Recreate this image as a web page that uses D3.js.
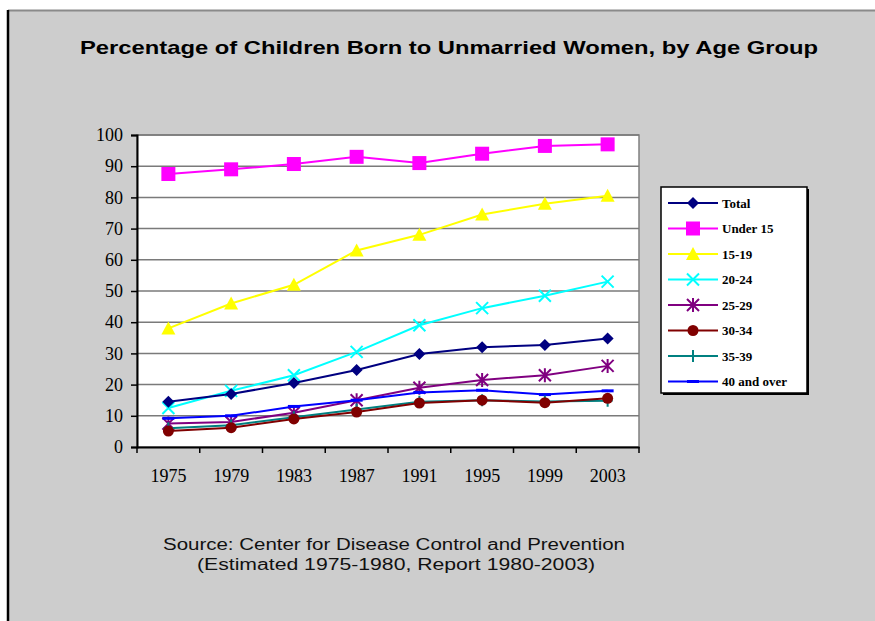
<!DOCTYPE html>
<html><head><meta charset="utf-8">
<script src="https://cdn.jsdelivr.net/npm/d3@7"></script>
<style>body{margin:0;background:#fff}svg{display:block}</style>
</head><body>
<svg id="c" width="875" height="621"></svg>
<script>
const years = ["1975","1979","1983","1987","1991","1995","1999","2003"];
const seriesNames = ["Total","Under 15","15-19","20-24","25-29","30-34","35-39","40 and over"];
const total     = [14.5,17,20.5,24.7,29.8,32,32.7,34.8];
const under15   = [87.5,89,90.7,93,91,94,96.5,97];
const age15_19  = [38,46,52,63,68,74.5,78,80.5];
const age20_24  = [12.5,18,23,30.5,39,44.5,48.5,53];
const age25_29  = [7.5,8,11,15,19,21.5,23,26];
const age30_34  = [5.1,6.2,9,11.2,14.1,15,14.2,15.6];
const age35_39  = [6,7,9.5,12,14.5,15,14.6,14.8];
const age40plus = [9.2,10,13,15,17.5,18.2,16.8,18];
const yTicks = [0,10,20,30,40,50,60,70,80,90,100];
const colors = ["#000080","#FF00FF","#FFFF00","#00FFFF","#800080","#800000","#008080","#0000FF"];
const markers = ["diamond","square","triangle","x","asterisk","circle","plus","dash"];
const allSeries = [total,under15,age15_19,age20_24,age25_29,age30_34,age35_39,age40plus];

const svg = d3.select("#c");
// frame
svg.append("rect").attr("x",8).attr("y",10).attr("width",867).attr("height",611).attr("fill","#cdcdcd");
svg.append("line").attr("x1",8).attr("x2",875).attr("y1",10.5).attr("y2",10.5).attr("stroke","#8a8a8a").attr("stroke-width",2);
svg.append("line").attr("x1",8).attr("x2",8).attr("y1",10).attr("y2",621).attr("stroke","#000").attr("stroke-width",2.5);

const L=137,R=639,T=135,B=447;
const x = d3.scaleBand().domain(years).range([L,R]);
const y = d3.scaleLinear().domain([0,100]).range([B,T]);

svg.append("rect").attr("x",L).attr("y",T).attr("width",R-L).attr("height",B-T).attr("fill","#fff").attr("stroke","#808080").attr("stroke-width",1.5);

// gridlines
svg.append("g").selectAll("line").data(yTicks.filter(d=>d>0)).join("line")
  .attr("x1",L).attr("x2",R).attr("y1",d=>y(d)).attr("y2",d=>y(d)).attr("stroke","#7a7a7a").attr("stroke-width",1.5);

// y axis
const ya = svg.append("g").attr("transform",`translate(${L},0)`)
  .call(d3.axisLeft(y).tickValues(yTicks).tickSize(6).tickPadding(8));
ya.select(".domain").attr("stroke","#000").attr("stroke-width",2);
ya.selectAll(".tick line").attr("stroke","#000").attr("stroke-width",1.5);
ya.selectAll("text").attr("font-family","Liberation Serif, serif").attr("font-size",18).attr("fill","#000");

// x axis
const xa = svg.append("g").attr("transform",`translate(0,${B})`)
  .call(d3.axisBottom(x).tickSize(0).tickPadding(22));
xa.select(".domain").attr("stroke","#000").attr("stroke-width",2);
xa.selectAll("text").attr("font-family","Liberation Serif, serif").attr("font-size",18).attr("fill","#000");
// between-category ticks
svg.append("g").selectAll("line").data(years.slice(1).concat(["end"])).join("line")
  .attr("x1",(d,i)=> i<years.length-1 ? x(d) : R).attr("x2",(d,i)=> i<years.length-1 ? x(d) : R)
  .attr("y1",B).attr("y2",B+6).attr("stroke","#000").attr("stroke-width",1.5);
svg.append("line").attr("x1",L).attr("x2",L).attr("y1",B).attr("y2",B+6).attr("stroke","#000").attr("stroke-width",1.5);

const cx = yr => x(yr)+x.bandwidth()/2;

function drawMarker(g,type,color,px,py,s){
  if(type==="diamond") g.append("path").attr("d",`M${px},${py-6}L${px+6},${py}L${px},${py+6}L${px-6},${py}Z`).attr("fill",color);
  else if(type==="square") g.append("rect").attr("x",px-7).attr("y",py-7).attr("width",14).attr("height",14).attr("fill",color);
  else if(type==="triangle") g.append("path").attr("d",`M${px},${py-7}L${px+7},${py+6}L${px-7},${py+6}Z`).attr("fill",color);
  else if(type==="circle") g.append("circle").attr("cx",px).attr("cy",py).attr("r",5.5).attr("fill",color);
  else if(type==="x") g.append("path").attr("d",`M${px-6},${py-6}L${px+6},${py+6}M${px-6},${py+6}L${px+6},${py-6}`).attr("stroke",color).attr("stroke-width",2);
  else if(type==="asterisk") g.append("path").attr("d",`M${px-6},${py-6}L${px+6},${py+6}M${px-6},${py+6}L${px+6},${py-6}M${px},${py-7}L${px},${py+7}`).attr("stroke",color).attr("stroke-width",2);
  else if(type==="plus") g.append("path").attr("d",`M${px-5},${py}L${px+5},${py}M${px},${py-6}L${px},${py+6}`).attr("stroke",color).attr("stroke-width",2);
  else if(type==="dash") g.append("path").attr("d",`M${px-6},${py}L${px+6},${py}`).attr("stroke",color).attr("stroke-width",3);
}

const line = d3.line().x((d,i)=>cx(years[i])).y(d=>y(d));
const order = [2,3,1,0,4,7,6,5];
order.forEach(si=>{
  const g = svg.append("g");
  g.append("path").attr("d",line(allSeries[si])).attr("fill","none").attr("stroke",colors[si]).attr("stroke-width",2);
  allSeries[si].forEach((v,i)=>drawMarker(g,markers[si],colors[si],cx(years[i]),y(v)));
});

// legend
const lg = svg.append("g");
lg.append("rect").attr("x",663).attr("y",189).attr("width",146).attr("height",206).attr("fill","#000");
lg.append("rect").attr("x",661).attr("y",187).attr("width",146).attr("height",206).attr("fill","#fff").attr("stroke","#000").attr("stroke-width",1.5);
seriesNames.forEach((n,i)=>{
  const yy = 203 + i*25.5;
  lg.append("line").attr("x1",668).attr("x2",718).attr("y1",yy).attr("y2",yy).attr("stroke",colors[i]).attr("stroke-width",2);
  drawMarker(lg,markers[i],colors[i],693,yy);
  lg.append("text").attr("x",722).attr("y",yy+4.5).text(n)
    .attr("font-family","Liberation Serif, serif").attr("font-size",13).attr("font-weight","bold").attr("fill","#000");
});

// title
svg.append("text").attr("x",449).attr("y",54).attr("text-anchor","middle")
  .attr("font-family","Liberation Sans, Arial, sans-serif").attr("font-weight","bold").attr("font-size",19)
  .attr("textLength",738).attr("lengthAdjust","spacingAndGlyphs")
  .text("Percentage of Children Born to Unmarried Women, by Age Group");

// source
svg.append("text").attr("x",394).attr("y",550).attr("text-anchor","middle")
  .attr("font-family","Liberation Sans, Arial, sans-serif").attr("font-size",16).attr("fill","#111")
  .attr("textLength",462).attr("lengthAdjust","spacingAndGlyphs")
  .text("Source: Center for Disease Control and Prevention");
svg.append("text").attr("x",396).attr("y",570).attr("text-anchor","middle")
  .attr("font-family","Liberation Sans, Arial, sans-serif").attr("font-size",16).attr("fill","#111")
  .attr("textLength",398).attr("lengthAdjust","spacingAndGlyphs")
  .text("(Estimated 1975-1980, Report 1980-2003)");
</script>
</body></html>
